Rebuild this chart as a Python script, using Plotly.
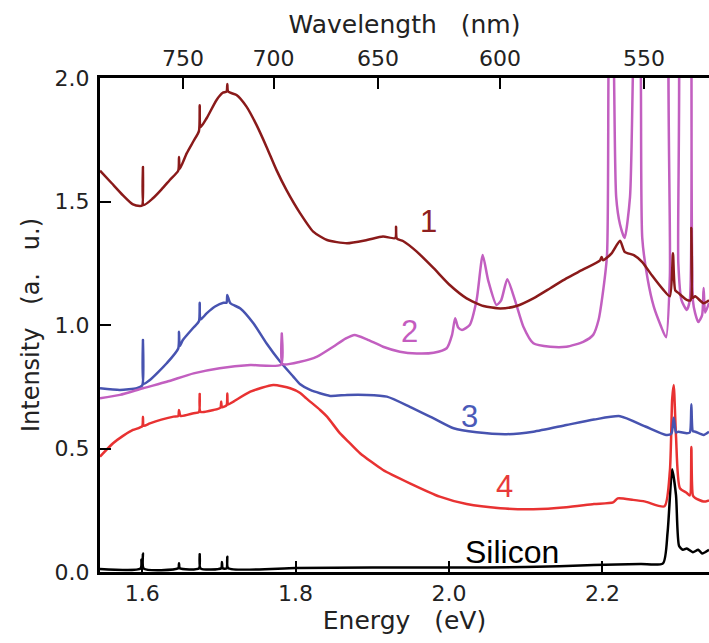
import plotly.graph_objects as go

# ---------------- data ----------------
c1_x = [1.545, 1.560, 1.575, 1.588, 1.597, 1.600, 1.601, 1.602, 1.614, 1.625, 1.636, 1.647, 1.648, 1.649,
        1.658, 1.667, 1.674, 1.675, 1.676, 1.684, 1.697, 1.705, 1.710, 1.711, 1.712, 1.723, 1.736, 1.749,
        1.762, 1.775, 1.788, 1.806, 1.823, 1.841, 1.867, 1.893, 1.914, 1.930, 1.931, 1.932, 1.940, 1.958,
        1.980, 2.001, 2.023, 2.045, 2.067, 2.088, 2.110, 2.132, 2.153, 2.175, 2.197, 2.199, 2.201, 2.212,
        2.223, 2.229, 2.241, 2.252, 2.265, 2.279, 2.288, 2.292, 2.295, 2.299, 2.310, 2.315, 2.316, 2.318,
        2.321, 2.332, 2.339]
c1_y = [1.625, 1.575, 1.525, 1.488, 1.482, 1.484, 1.640, 1.486, 1.513, 1.548, 1.587, 1.625, 1.680, 1.632,
        1.695, 1.745, 1.785, 1.890, 1.800, 1.837, 1.911, 1.940, 1.945, 1.976, 1.945, 1.931, 1.884, 1.810,
        1.722, 1.628, 1.547, 1.452, 1.378, 1.344, 1.331, 1.344, 1.358, 1.352, 1.398, 1.350, 1.340, 1.297,
        1.230, 1.162, 1.108, 1.077, 1.067, 1.077, 1.108, 1.149, 1.189, 1.225, 1.262, 1.275, 1.262, 1.290,
        1.341, 1.296, 1.283, 1.255, 1.199, 1.144, 1.116, 1.290, 1.140, 1.130, 1.102, 1.100, 1.393, 1.110,
        1.116, 1.088, 1.100]

c2_x = [1.545, 1.571, 1.601, 1.632, 1.667, 1.701, 1.741, 1.781, 1.782, 1.783, 1.806, 1.828, 1.849, 1.865,
        1.877, 1.893, 1.914, 1.936, 1.958, 1.980, 1.997, 2.004, 2.008, 2.012, 2.017, 2.027, 2.036, 2.044,
        2.051, 2.062, 2.068, 2.076, 2.086, 2.097, 2.110, 2.132, 2.153, 2.175, 2.188, 2.195, 2.200, 2.206,
        2.208, 2.211, 2.215, 2.218, 2.223, 2.229, 2.236, 2.240, 2.245, 2.250, 2.252, 2.259, 2.267, 2.276,
        2.283, 2.288, 2.290, 2.296, 2.299, 2.303, 2.310, 2.314, 2.316, 2.318, 2.321, 2.325, 2.330, 2.332,
        2.334, 2.339]
c2_y = [0.703, 0.717, 0.744, 0.770, 0.804, 0.825, 0.838, 0.840, 0.966, 0.842, 0.851, 0.872, 0.912, 0.945,
        0.960, 0.942, 0.912, 0.892, 0.885, 0.888, 0.906, 0.960, 1.027, 0.990, 0.980, 1.000, 1.101, 1.283,
        1.182, 1.081, 1.100, 1.185, 1.101, 0.993, 0.926, 0.912, 0.912, 0.932, 0.960, 1.020, 1.116, 1.283,
        2.050, 2.600, 2.050, 1.518, 1.407, 1.352, 1.518, 2.050, 2.600, 2.050, 1.352, 1.186, 1.074, 0.998,
        0.950, 1.200, 2.400, 2.400, 1.250, 1.102, 1.061, 1.100, 2.400, 1.100, 1.047, 1.012, 1.040, 1.150,
        1.050, 1.090]

c3_x = [1.545, 1.571, 1.593, 1.600, 1.601, 1.602, 1.610, 1.632, 1.647, 1.648, 1.649, 1.653, 1.667, 1.674,
        1.675, 1.676, 1.684, 1.695, 1.706, 1.710, 1.711, 1.715, 1.728, 1.745, 1.762, 1.780, 1.797, 1.806,
        1.819, 1.845, 1.867, 1.893, 1.919, 1.949, 1.980, 2.006, 2.036, 2.075, 2.110, 2.153, 2.189, 2.223,
        2.256, 2.283, 2.290, 2.293, 2.296, 2.299, 2.310, 2.314, 2.316, 2.318, 2.321, 2.332, 2.339]
c3_y = [0.744, 0.737, 0.744, 0.755, 0.939, 0.762, 0.777, 0.845, 0.905, 0.973, 0.915, 0.939, 0.990, 1.015,
        1.090, 1.022, 1.047, 1.075, 1.090, 1.090, 1.121, 1.088, 1.067, 1.007, 0.926, 0.851, 0.791, 0.760,
        0.737, 0.713, 0.717, 0.717, 0.710, 0.669, 0.622, 0.582, 0.566, 0.558, 0.568, 0.595, 0.617, 0.631,
        0.589, 0.555, 0.560, 0.624, 0.565, 0.568, 0.562, 0.565, 0.679, 0.570, 0.568, 0.555, 0.568]

c4_x = [1.545, 1.562, 1.575, 1.588, 1.600, 1.601, 1.602, 1.610, 1.625, 1.641, 1.647, 1.648, 1.650, 1.667,
        1.674, 1.675, 1.676, 1.693, 1.702, 1.703, 1.704, 1.710, 1.711, 1.712, 1.719, 1.741, 1.771, 1.793,
        1.806, 1.814, 1.832, 1.841, 1.858, 1.871, 1.884, 1.914, 1.949, 1.988, 2.023, 2.067, 2.110, 2.153,
        2.189, 2.214, 2.220, 2.240, 2.256, 2.281, 2.288, 2.291, 2.293, 2.296, 2.301, 2.310, 2.314, 2.316,
        2.318, 2.321, 2.332, 2.339]
c4_y = [0.467, 0.521, 0.551, 0.575, 0.590, 0.629, 0.592, 0.602, 0.617, 0.629, 0.631, 0.656, 0.632, 0.643,
        0.647, 0.721, 0.649, 0.656, 0.665, 0.690, 0.667, 0.675, 0.723, 0.678, 0.690, 0.730, 0.757, 0.744,
        0.725, 0.703, 0.656, 0.629, 0.561, 0.521, 0.481, 0.413, 0.359, 0.305, 0.275, 0.258, 0.254, 0.262,
        0.275, 0.282, 0.298, 0.292, 0.285, 0.266, 0.409, 0.700, 0.757, 0.548, 0.340, 0.320, 0.310, 0.506,
        0.310, 0.300, 0.285, 0.290]

si_x = [1.545, 1.598, 1.599, 1.600, 1.601, 1.602, 1.647, 1.648, 1.649, 1.674, 1.675, 1.676, 1.703, 1.704,
        1.705, 1.710, 1.711, 1.712, 1.800, 1.900, 2.000, 2.100, 2.189, 2.250, 2.279, 2.285, 2.291, 2.296,
        2.300, 2.305, 2.310, 2.318, 2.325, 2.330, 2.339]
si_y = [0.012, 0.014, 0.050, 0.014, 0.075, 0.014, 0.015, 0.035, 0.015, 0.015, 0.072, 0.015, 0.015, 0.040,
        0.015, 0.015, 0.062, 0.016, 0.016, 0.018, 0.018, 0.020, 0.028, 0.032, 0.035, 0.160, 0.416, 0.310,
        0.105, 0.090, 0.095, 0.080, 0.090, 0.075, 0.090]

wl_ticks = [750, 700, 650, 600, 550]
energy_ticks = [1.6, 1.8, 2.0, 2.2]
y_ticks = [0.0, 0.5, 1.0, 1.5, 2.0]

labels = ["1", "2", "3", "4", "Silicon"]
label_x = [1.973, 1.949, 2.027, 2.073, 2.082]
label_y = [1.418, 0.973, 0.629, 0.348, 0.081]

# ---------------- styles ----------------
colors = ["#8a1a1a", "#c25fc0", "#4753b0", "#e83232", "#000000"]
label_colors = ["#8e2020", "#c45cbf", "#4a5ab8", "#e83a3a", "#000000"]
AXFONT = "DejaVu Sans, sans-serif"
LBLFONT = "Liberation Sans, Arial, sans-serif"
SP = "\u00a0\u00a0\u00a0"

x_range = [1.545, 2.339]

fig = go.Figure()
series = [(c1_x, c1_y), (c2_x, c2_y), (c3_x, c3_y), (c4_x, c4_y), (si_x, si_y)]
for idx in [4, 3, 2, 1, 0]:
    xs, ys = series[idx]
    fig.add_trace(go.Scatter(x=xs, y=ys, mode="lines",
                             line=dict(color=colors[idx], width=2.5, shape="spline", smoothing=0.6),
                             showlegend=False, hoverinfo="skip"))

# invisible trace to activate the top wavelength axis
fig.add_trace(go.Scatter(x=[x_range[0]], y=[0], xaxis="x2", mode="lines",
                         showlegend=False, hoverinfo="skip", line=dict(width=0)))

for t, lx, ly, lc in zip(labels, label_x, label_y, label_colors):
    fig.add_annotation(x=lx, y=ly, text=t, showarrow=False,
                       font=dict(family=LBLFONT, size=31 if t != "Silicon" else 32, color=lc))

tick_font = dict(family=AXFONT, size=22, color="#222")

common = dict(ticks="inside", ticklen=11, tickwidth=2, tickcolor="black",
              showline=True, linewidth=3, linecolor="black", showgrid=False, zeroline=False,
              tickfont=tick_font)

fig.update_layout(
    width=709, height=643,
    margin=dict(l=100, r=0, t=78, b=71),
    paper_bgcolor="white", plot_bgcolor="white",
    xaxis=dict(range=x_range, tickvals=energy_ticks,
               ticktext=[f"{v:.1f}" for v in energy_ticks],
               title=dict(text="Energy" + SP + "(eV)",
                          font=dict(family=AXFONT, size=25, color="#222"), standoff=4), **common),
    xaxis2=dict(range=x_range, overlaying="x", side="top", anchor="y",
                tickvals=[1239.84 / w for w in wl_ticks],
                ticktext=[str(w) for w in wl_ticks],
                title=dict(text="Wavelength" + SP + "(nm)",
                           font=dict(family=AXFONT, size=25, color="#222"), standoff=6), **common),
    yaxis=dict(range=[0, 2], tickvals=y_ticks, ticktext=[f"{v:.1f}" for v in y_ticks],
               ticklabelstandoff=3,
               title=dict(text="Intensity" + SP + "(a." + SP + "u.)",
                          font=dict(family=AXFONT, size=24, color="#222"), standoff=9),
               **common),
)

fig.write_html("out.html")
